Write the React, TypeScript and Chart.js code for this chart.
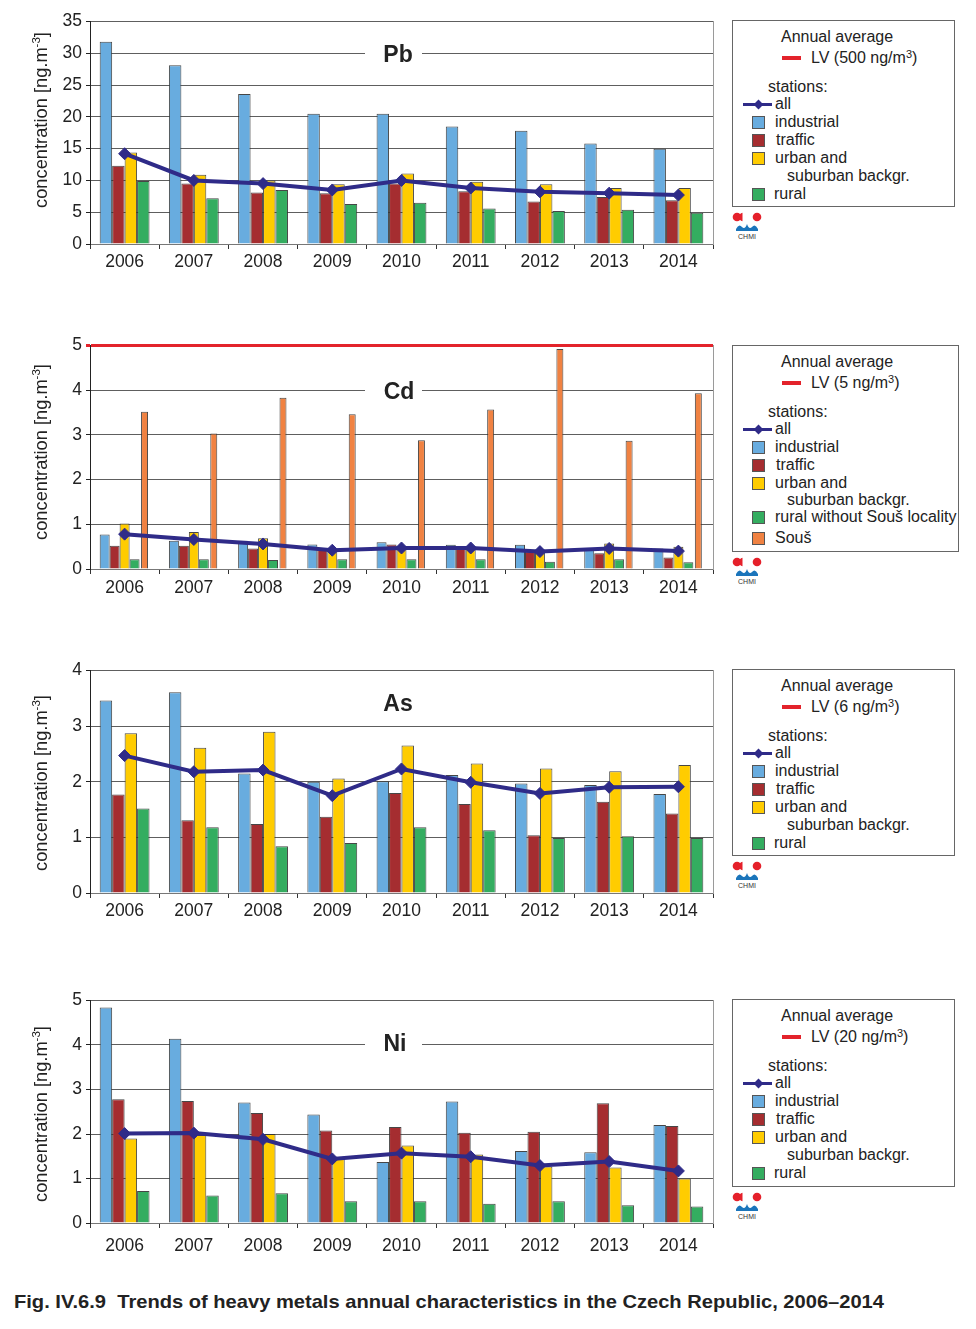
import React, { useEffect, useLayoutEffect, useRef } from 'react';
import { Chart, registerables } from 'chart.js';
Chart.register(...registerables);

const FONT = "'Liberation Sans', Arial, Helvetica, sans-serif";
Chart.defaults.font.family = FONT;

// ---------- DATA ----------
const years = ['2006', '2007', '2008', '2009', '2010', '2011', '2012', '2013', '2014'];

const pbIndustrial = [31.8, 28.1, 23.6, 20.5, 20.5, 18.5, 17.8, 15.8, 15.0];
const pbTraffic = [12.3, 9.5, 8.1, 8.0, 9.5, 8.3, 6.7, 7.4, 6.9];
const pbUrban = [14.4, 10.9, 10.0, 9.4, 11.1, 9.8, 9.4, 8.8, 8.8];
const pbRural = [9.9, 7.2, 8.5, 6.3, 6.5, 5.6, 5.2, 5.4, 4.9];
const pbAll = [14.2, 10.0, 9.5, 8.5, 10.0, 8.8, 8.2, 8.0, 7.7];

const cdIndustrial = [0.77, 0.63, 0.63, 0.55, 0.6, 0.54, 0.54, 0.46, 0.46];
const cdTraffic = [0.52, 0.52, 0.46, 0.45, 0.55, 0.51, 0.39, 0.35, 0.26];
const cdUrban = [1.02, 0.83, 0.69, 0.45, 0.49, 0.5, 0.4, 0.57, 0.5];
const cdRural = [0.22, 0.22, 0.2, 0.22, 0.22, 0.22, 0.16, 0.22, 0.15];
const cdSous = [3.52, 3.03, 3.83, 3.46, 2.88, 3.57, 4.92, 2.87, 3.93];
const cdAll = [0.78, 0.66, 0.56, 0.42, 0.47, 0.47, 0.39, 0.46, 0.4];

const asIndustrial = [3.46, 3.61, 2.15, 2.0, 2.01, 2.12, 1.97, 1.94, 1.78];
const asTraffic = [1.77, 1.31, 1.24, 1.37, 1.8, 1.6, 1.04, 1.64, 1.43];
const asUrban = [2.87, 2.61, 2.9, 2.06, 2.65, 2.33, 2.24, 2.19, 2.3];
const asRural = [1.52, 1.18, 0.84, 0.9, 1.18, 1.13, 0.99, 1.02, 0.99];
const asAll = [2.47, 2.18, 2.21, 1.75, 2.23, 1.99, 1.79, 1.9, 1.91];

const niIndustrial = [4.84, 4.14, 2.71, 2.44, 1.37, 2.73, 1.62, 1.59, 2.2];
const niTraffic = [2.78, 2.74, 2.47, 2.08, 2.16, 2.03, 2.05, 2.69, 2.18];
const niUrban = [1.9, 1.98, 2.0, 1.46, 1.74, 1.54, 1.27, 1.25, 1.0];
const niRural = [0.72, 0.62, 0.67, 0.49, 0.49, 0.43, 0.49, 0.4, 0.37];
const niAll = [2.01, 2.02, 1.88, 1.44, 1.57, 1.49, 1.29, 1.38, 1.17];

const C_IND = '#68acdf';
const C_TRA = '#a52d30';
const C_URB = '#ffcc00';
const C_RUR = '#34ad60';
const C_SOUS = '#f08242';
const C_ALL = '#2f2b88';
const C_RED = '#e3232b';
const TXT = '#222';

type Bar = { label: string; data: number[]; color: string; pct?: number };

type ChartProps = {
  plotTop: number;
  plotH: number;
  axisH: number;
  labelPad: number;
  max: number;
  step: number;
  bars: Bar[];
  all: number[];
  redMax?: boolean;
};

const PAD_TOP = 14;

function MetalChart({ plotTop, plotH, axisH, labelPad, max, step, bars, all, redMax }: ChartProps) {
  const ref = useRef<HTMLCanvasElement>(null);
  useEffect(() => {
    const datasets: any[] = [
      {
        type: 'line',
        label: 'all',
        data: all,
        borderColor: C_ALL,
        backgroundColor: C_ALL,
        borderWidth: 4,
        pointStyle: 'rectRot',
        pointRadius: 6,
        pointBackgroundColor: C_ALL,
        pointBorderColor: C_ALL,
        pointBorderWidth: 1,
        tension: 0,
        order: 0,
      },
      ...bars.map((b) => ({
        type: 'bar',
        label: b.label,
        data: b.data,
        backgroundColor: b.color,
        borderColor: 'rgba(50,50,50,0.9)',
        borderWidth: 1,
        categoryPercentage: 0.72,
        barPercentage: b.pct ?? 1,
        order: 1,
      })),
    ];
    const isRed = (ctx: any) => !!redMax && ctx.tick && ctx.tick.value === max;
    const chart = new Chart(ref.current as HTMLCanvasElement, {
      type: 'bar',
      data: { labels: years, datasets },
      options: {
        animation: false,
        responsive: true,
        maintainAspectRatio: false,
        layout: { padding: { top: PAD_TOP, right: 7, left: 0, bottom: 0 } },
        plugins: { legend: { display: false }, tooltip: { enabled: false } },
        scales: {
          x: {
            grid: { offset: true, drawOnChartArea: false, drawTicks: true, tickLength: 5, tickColor: '#333' },
            border: { color: '#777', width: 1 },
            ticks: { color: TXT, font: { size: 17.5, family: FONT }, padding: labelPad, maxRotation: 0, autoSkip: false },
            afterFit: (s: any) => {
              s.height = axisH;
            },
          },
          y: {
            min: 0,
            max,
            ticks: { stepSize: step, color: TXT, font: { size: 17.5, family: FONT }, padding: 4 },
            grid: {
              color: (ctx: any) => (isRed(ctx) ? C_RED : '#5e5e5e'),
              lineWidth: (ctx: any) => (isRed(ctx) ? 3 : 1),
              tickColor: (ctx: any) => (isRed(ctx) ? C_RED : '#222'),
              tickLength: 4,
            },
            border: { color: '#222', width: 1 },
            afterFit: (s: any) => {
              s.width = 82;
            },
          },
          y2: {
            position: 'right',
            display: true,
            ticks: { display: false },
            grid: { drawOnChartArea: false, drawTicks: false },
            border: { color: '#9a9a9a', width: 1 },
            afterFit: (s: any) => {
              s.width = 0;
            },
          },
        },
      } as any,
    });
    return () => chart.destroy();
  }, []);
  const top = plotTop - 8 - PAD_TOP;
  const height = PAD_TOP + plotH + axisH;
  return (
    <div style={{ position: 'absolute', left: 0, top, width: 712, height }}>
      <canvas ref={ref} />
    </div>
  );
}

function YTitle({ cy }: { cy: number }) {
  return (
    <div
      style={{
        position: 'absolute',
        left: 42 - 8,
        top: cy - 8,
        transform: 'translate(-50%, -50%) rotate(-90deg)',
        whiteSpace: 'nowrap',
        fontFamily: FONT,
        fontSize: 18.3,
        color: TXT,
        lineHeight: '20px',
      }}
    >
      concentration [ng.m<span style={{ fontSize: 11.5, position: 'relative', top: -7 }}>-3</span>]
    </div>
  );
}

function MetalLabel({ text, x, y, w, h, cx }: { text: string; x: number; y: number; w: number; h: number; cx: number }) {
  return (
    <>
      <div style={{ position: 'absolute', left: x - 8, top: y - 8, width: w, height: h, background: '#fff' }} />
      <div
        style={{
          position: 'absolute',
          left: cx - 40 - 8,
          top: y - 8,
          width: 80,
          height: h,
          display: 'flex',
          alignItems: 'center',
          justifyContent: 'center',
          fontFamily: FONT,
          fontWeight: 'bold',
          fontSize: 23,
          color: TXT,
        }}
      >
        {text}
      </div>
    </>
  );
}

type LegendRow = { kind: 'text' | 'box' | 'line'; y: number; x: number; text: string; color?: string };

function Legend({ top, width, height, lv, rows }: { top: number; width: number; height: number; lv: string; rows: LegendRow[] }) {
  const txt = (x: number, y: number, content: React.ReactNode, key: string) => (
    <div
      key={key}
      style={{
        position: 'absolute',
        left: x - 732,
        top: y - 10,
        lineHeight: '20px',
        height: 20,
        whiteSpace: 'nowrap',
        fontFamily: FONT,
        fontSize: 16,
        color: TXT,
      }}
    >
      {content}
    </div>
  );
  return (
    <>
      <div
        style={{
          position: 'absolute',
          left: 732 - 8,
          top: top - 8,
          width: width - 2,
          height: height - 2,
          border: '1px solid #666',
          background: '#fff',
        }}
      >
        {txt(780, 15.7, 'Annual average', 'aa')}
        <div style={{ position: 'absolute', left: 781 - 732, top: 36.7 - 2, width: 19, height: 4, background: C_RED }} />
        {txt(
          810,
          36.7,
          <span>
            LV ({lv} ng/m<span style={{ fontSize: 11, position: 'relative', top: -5 }}>3</span>)
          </span>,
          'lv'
        )}
        {txt(767, 66, 'stations:', 'st')}
        {rows.map((r, i) => {
          const parts: React.ReactNode[] = [];
          if (r.kind === 'line') {
            parts.push(
              <div key={'l' + i} style={{ position: 'absolute', left: 742 - 732, top: r.y - 1.5, width: 29, height: 3, background: C_ALL }} />
            );
            parts.push(
              <div
                key={'d' + i}
                style={{
                  position: 'absolute',
                  left: 757 - 732 - 3.5,
                  top: r.y - 3.5,
                  width: 7,
                  height: 7,
                  background: C_ALL,
                  transform: 'rotate(45deg)',
                }}
              />
            );
          } else if (r.kind === 'box') {
            parts.push(
              <div
                key={'b' + i}
                style={{
                  position: 'absolute',
                  left: 751 - 732,
                  top: r.y - 6,
                  width: 11,
                  height: 11,
                  background: r.color,
                  border: '1px solid #555',
                }}
              />
            );
          }
          parts.push(txt(r.x, r.y, r.text, 't' + i));
          return parts;
        })}
      </div>
      <Logo top={top + height + 4} />
    </>
  );
}

function Logo({ top }: { top: number }) {
  return (
    <svg style={{ position: 'absolute', left: 732 - 8, top: top - 8 }} width={32} height={32} viewBox="0 0 32 32">
      <circle cx={5} cy={6} r={4.3} fill="#e5202a" />
      <path d="M10.5 1.8 A4.3 4.3 0 0 0 10.5 10.2 Z" fill="#e5202a" />
      <circle cx={25} cy={6} r={4.3} fill="#e5202a" />
      <path d="M4 18 Q7 12 10 16 Q13 19 15 13 Q17 19 20 16 Q23 12 26 18 L26 20 L4 20 Z" fill="#1b75bb" />
      <text x={15} y={28} fontSize={7} fontFamily={FONT} textAnchor="middle" fill="#333">
        CHMI
      </text>
    </svg>
  );
}

const rowsStd: LegendRow[] = [
  { kind: 'line', y: 83.3, x: 774, text: 'all' },
  { kind: 'box', y: 101, x: 774, text: 'industrial', color: C_IND },
  { kind: 'box', y: 119, x: 775, text: 'traffic', color: C_TRA },
  { kind: 'box', y: 136.7, x: 774, text: 'urban and', color: C_URB },
  { kind: 'text', y: 155, x: 786, text: 'suburban backgr.' },
  { kind: 'box', y: 172.7, x: 773, text: 'rural', color: C_RUR },
];
const rowsCd: LegendRow[] = [
  { kind: 'line', y: 83.3, x: 774, text: 'all' },
  { kind: 'box', y: 101, x: 774, text: 'industrial', color: C_IND },
  { kind: 'box', y: 119, x: 775, text: 'traffic', color: C_TRA },
  { kind: 'box', y: 136.7, x: 774, text: 'urban and', color: C_URB },
  { kind: 'text', y: 154.3, x: 786, text: 'suburban backgr.' },
  { kind: 'box', y: 171, x: 774, text: 'rural without Souš locality', color: C_RUR },
  { kind: 'box', y: 191.7, x: 774, text: 'Souš', color: C_SOUS },
];

function Caption() {
  const ref = useRef<HTMLSpanElement>(null);
  useLayoutEffect(() => {
    const el = ref.current;
    if (!el) return;
    el.style.transform = 'none';
    const w = el.getBoundingClientRect().width;
    if (w > 0) el.style.transform = `scaleX(${870 / w})`;
  }, []);
  return (
    <span
      ref={ref}
      style={{
        position: 'absolute',
        left: 14 - 8,
        top: 1302 - 8 - 11,
        lineHeight: '22px',
        whiteSpace: 'nowrap',
        fontFamily: "'Liberation Sans Narrow', 'Arial Narrow', " + FONT,
        fontWeight: 'bold',
        fontSize: 19,
        color: TXT,
        transformOrigin: 'left center',
        display: 'inline-block',
      }}
    >
      Fig. IV.6.9&nbsp;&nbsp;Trends of heavy metals annual characteristics in the Czech Republic, 2006–2014
    </span>
  );
}

export default function App() {
  return (
    <div style={{ position: 'relative', width: 960, height: 1313, background: '#fff', overflow: 'hidden' }}>
      <MetalChart
        plotTop={21}
        plotH={223}
        axisH={36}
        labelPad={3}
        max={35}
        step={5}
        all={pbAll}
        bars={[
          { label: 'industrial', data: pbIndustrial, color: C_IND },
          { label: 'traffic', data: pbTraffic, color: C_TRA },
          { label: 'urban and suburban backgr.', data: pbUrban, color: C_URB },
          { label: 'rural', data: pbRural, color: C_RUR },
        ]}
      />
      <MetalChart
        plotTop={345}
        plotH={224}
        axisH={36}
        labelPad={4}
        max={5}
        step={1}
        redMax
        all={cdAll}
        bars={[
          { label: 'industrial', data: cdIndustrial, color: C_IND },
          { label: 'traffic', data: cdTraffic, color: C_TRA },
          { label: 'urban and suburban backgr.', data: cdUrban, color: C_URB },
          { label: 'rural without Souš locality', data: cdRural, color: C_RUR },
          { label: 'Souš', data: cdSous, color: C_SOUS, pct: 0.7 },
        ]}
      />
      <MetalChart
        plotTop={670}
        plotH={223}
        axisH={36}
        labelPad={3}
        max={4}
        step={1}
        all={asAll}
        bars={[
          { label: 'industrial', data: asIndustrial, color: C_IND },
          { label: 'traffic', data: asTraffic, color: C_TRA },
          { label: 'urban and suburban backgr.', data: asUrban, color: C_URB },
          { label: 'rural', data: asRural, color: C_RUR },
        ]}
      />
      <MetalChart
        plotTop={1000}
        plotH={223}
        axisH={40}
        labelPad={8}
        max={5}
        step={1}
        all={niAll}
        bars={[
          { label: 'industrial', data: niIndustrial, color: C_IND },
          { label: 'traffic', data: niTraffic, color: C_TRA },
          { label: 'urban and suburban backgr.', data: niUrban, color: C_URB },
          { label: 'rural', data: niRural, color: C_RUR },
        ]}
      />

      <YTitle cy={120} />
      <YTitle cy={452} />
      <YTitle cy={783} />
      <YTitle cy={1114} />

      <MetalLabel text="Pb" x={365} y={35} w={57} h={38} cx={398} />
      <MetalLabel text="Cd" x={365} y={371} w={57} h={41} cx={399} />
      <MetalLabel text="As" x={369} y={684} w={57} h={38} cx={398} />
      <MetalLabel text="Ni" x={365} y={1025} w={57} h={37} cx={395} />

      <Legend top={20} width={223} height={187} lv="500" rows={rowsStd} />
      <Legend top={345} width={227} height={207} lv="5" rows={rowsCd} />
      <Legend top={669} width={223} height={187} lv="6" rows={rowsStd} />
      <Legend top={999} width={223} height={188} lv="20" rows={rowsStd} />

      <Caption />
    </div>
  );
}
